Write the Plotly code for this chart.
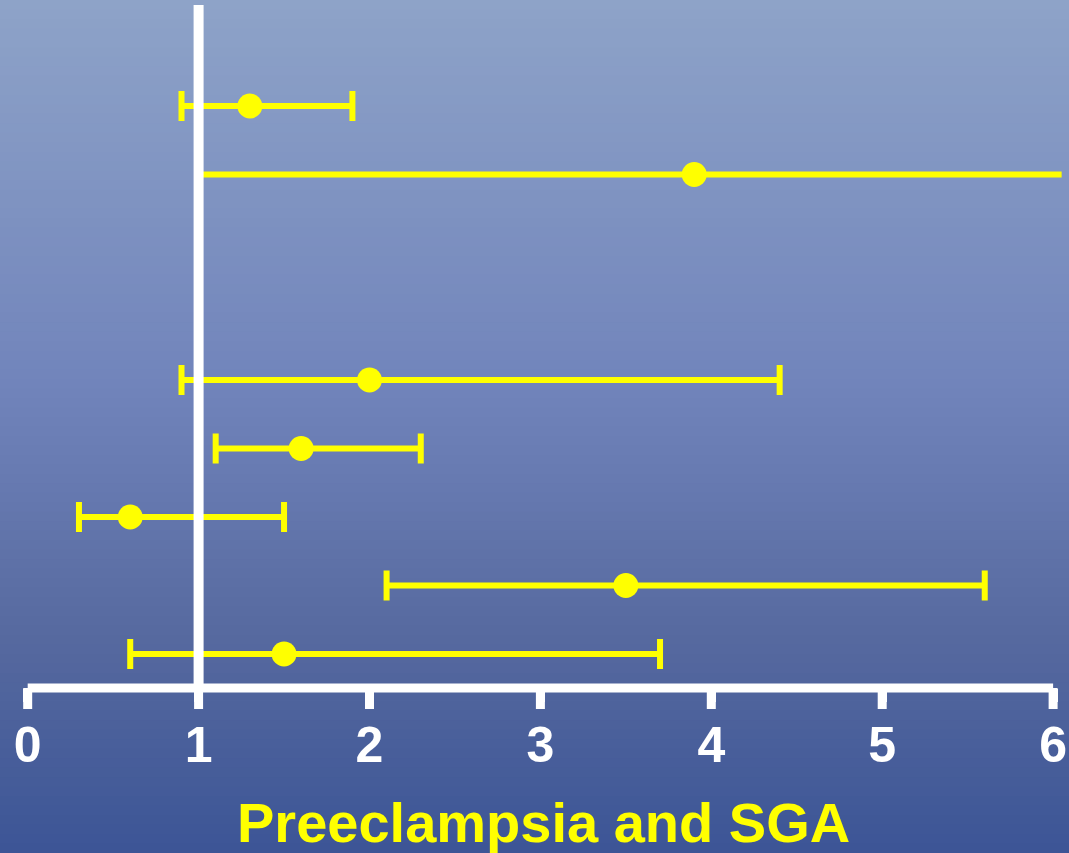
import plotly.graph_objects as go

# ---- data ----
row_pos = [9, 8, 5, 4, 3, 2, 1]
estimate = [1.3, 3.9, 2.0, 1.6, 0.6, 3.5, 1.5]
ci_low = [0.9, 1.0, 0.9, 1.1, 0.3, 2.1, 0.6]
ci_high = [1.9, 6.05, 4.4, 2.3, 1.5, 5.6, 3.7]
capped = [True, False, True, True, True, True, True]
x_ticks = [0, 1, 2, 3, 4, 5, 6]
x_tick_labels = ["0", "1", "2", "3", "4", "5", "6"]
title_text = "Preeclampsia and SGA"

YELLOW = "#FFFF00"
WHITE = "#FFFFFF"

fig = go.Figure()

# CI lines with caps (error bars) and point estimates
for with_cap in (True, False):
    idx = [i for i in range(len(estimate)) if capped[i] == with_cap]
    if not idx:
        continue
    fig.add_trace(go.Scatter(
        x=[estimate[i] for i in idx],
        y=[row_pos[i] for i in idx],
        mode="markers",
        marker=dict(color=YELLOW, size=25, line=dict(width=0)),
        error_x=dict(
            type="data", symmetric=False,
            array=[ci_high[i] - estimate[i] for i in idx],
            arrayminus=[estimate[i] - ci_low[i] for i in idx],
            color=YELLOW, thickness=6, width=15 if with_cap else 0,
        ),
        showlegend=False, hoverinfo="skip", cliponaxis=False,
    ))

# ---- background gradient (styling) ----
def hex2rgb(h):
    h = h.lstrip("#")
    return tuple(int(h[i:i + 2], 16) for i in (0, 2, 4))

stops = [(0.0, "#8ea3c8"), (0.45, "#7184bb"), (0.75, "#56699f"), (1.0, "#3c5596")]

def color_at(t):
    for (t0, c0), (t1, c1) in zip(stops[:-1], stops[1:]):
        if t0 <= t <= t1:
            f = (t - t0) / (t1 - t0)
            a, b = hex2rgb(c0), hex2rgb(c1)
            return "rgb(%d,%d,%d)" % tuple(round(a[k] + (b[k] - a[k]) * f) for k in range(3))
    return stops[-1][1]

H_PLOT = 688.0
H_FIG = 853.0
bottom_paper = (H_PLOT - H_FIG) / H_PLOT
N = 90
shapes = []
for k in range(N):
    t0 = k / N
    t1 = (k + 1) / N
    y_top = 1 - t0 * (1 - bottom_paper)
    y_bot = 1 - t1 * (1 - bottom_paper)
    shapes.append(dict(type="rect", xref="paper", yref="paper",
                       x0=0, x1=1, y0=y_bot - 0.002, y1=y_top,
                       fillcolor=color_at((t0 + t1) / 2), line=dict(width=0),
                       layer="below"))

# axis line (white), tick marks, and reference line at 1
shapes.append(dict(type="line", xref="x", yref="paper", x0=0, x1=6, y0=0, y1=0,
                   line=dict(color=WHITE, width=9), layer="above"))
for tv in x_ticks:
    shapes.append(dict(type="line", xref="x", yref="paper", x0=tv, x1=tv,
                       y0=0, y1=-21 / H_PLOT, line=dict(color=WHITE, width=9),
                       layer="above"))
shapes.append(dict(type="line", xref="x", yref="paper", x0=1, x1=1, y0=0, y1=1 - 5 / H_PLOT,
                   line=dict(color=WHITE, width=10), layer="above"))

fig.update_layout(
    width=1069, height=853,
    margin=dict(l=0, r=0, t=0, b=int(H_FIG - H_PLOT)),
    paper_bgcolor="#3c5596",
    plot_bgcolor="rgba(0,0,0,0)",
    shapes=shapes,
    xaxis=dict(
        range=[-0.162, 6.093], showgrid=False, zeroline=False, showline=False,
        tickmode="array", tickvals=x_ticks, ticktext=x_tick_labels,
        ticks="outside", ticklen=13, tickwidth=9, tickcolor=WHITE,
        tickfont=dict(family="Liberation Sans, Arial, sans-serif", size=50,
                      color=WHITE, weight="bold"),
    ),
    yaxis=dict(range=[0.504, 10.547], visible=False, showgrid=False, zeroline=False),
    annotations=[dict(
        text=title_text, xref="paper", yref="paper", x=543 / 1069, y=(H_PLOT - 822) / H_PLOT,
        xanchor="center", yanchor="middle", showarrow=False,
        font=dict(family="Liberation Sans, Arial, sans-serif", size=56, color=YELLOW,
                  weight="bold"),
    )],
)

fig.write_html("out.html", config={"displayModeBar": False},
               post_script="document.body.style.margin='0px';document.body.style.overflow='hidden';")
